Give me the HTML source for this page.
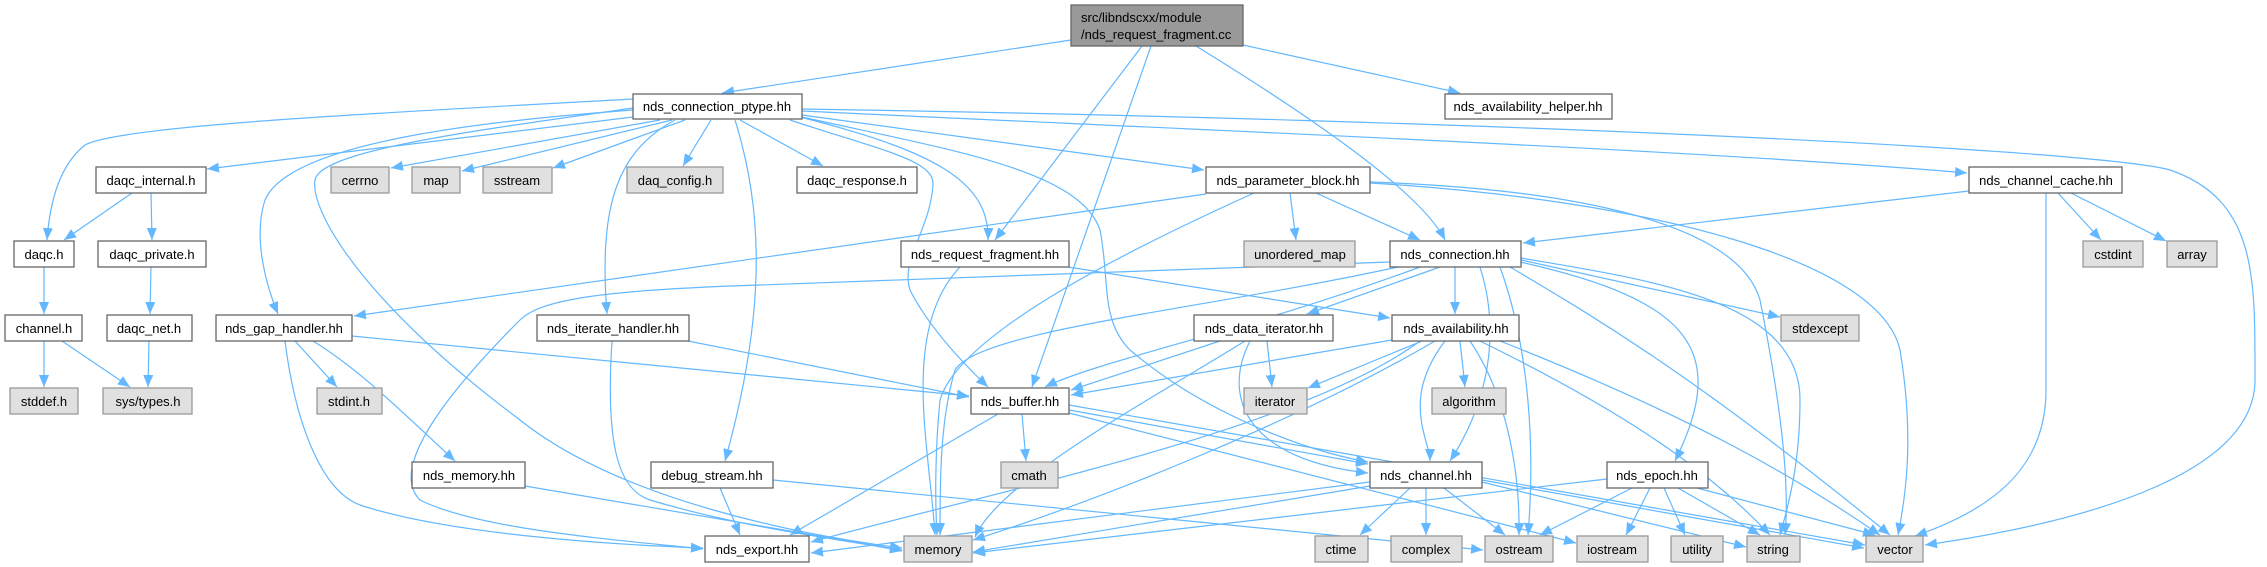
<!DOCTYPE html>
<html><head><meta charset="utf-8"><style>
html,body{margin:0;padding:0;background:#fff;}
svg{display:block;}
text{font-family:"Liberation Sans",Helvetica,Arial,sans-serif;font-size:13px;fill:#000;}
.n{fill:#fff;stroke:#666;stroke-width:1.3;}
.g{fill:#e0e0e0;stroke:#999;stroke-width:1.3;}
.e path{fill:none;stroke:#63b8ff;stroke-width:1.2;marker-end:url(#a);}
</style></head><body>
<svg width="2267" height="567" viewBox="0 0 2267 567" xmlns="http://www.w3.org/2000/svg">
<defs><marker id="a" markerUnits="userSpaceOnUse" markerWidth="12" markerHeight="10" refX="12" refY="5" orient="auto"><path d="M0,0 L12,5 L0,10 z" fill="#63b8ff"/></marker></defs>
<g class="e">
<path d="M1071,40 L722,93"/>
<path d="M1142,46 L995,240"/>
<path d="M1151,46 L1032,387"/>
<path d="M1196,46 C1300,110 1420,190 1445,240"/>
<path d="M1243,45 L1460,93"/>
<path d="M633,99 C400,112 120,125 85,145 C60,165 50,200 47,240"/>
<path d="M633,117 L207,169"/>
<path d="M660,120 L391,168"/>
<path d="M672,120 L462,171"/>
<path d="M685,120 L553,168"/>
<path d="M711,120 L683,166"/>
<path d="M740,120 L823,166"/>
<path d="M802,115 L1204,170"/>
<path d="M802,111 C1200,130 1700,150 1967,173"/>
<path d="M802,109 C1500,120 2100,150 2170,170 C2258,200 2255,280 2255,380 C2255,470 2100,520 1925,545"/>
<path d="M633,110 C500,120 290,140 265,200 C252,240 268,290 278,314"/>
<path d="M675,120 C620,150 598,200 607,314"/>
<path d="M735,120 C760,200 770,300 725,461"/>
<path d="M633,108 C480,130 320,150 315,180 C310,210 360,300 520,420 C620,500 800,535 902,548"/>
<path d="M800,117 C930,150 990,180 988,240"/>
<path d="M790,120 C880,150 935,160 933,185 C930,230 900,260 910,290 C930,330 970,370 988,387"/>
<path d="M802,117 C950,150 1080,170 1100,230 C1110,280 1100,320 1130,350 C1200,410 1300,450 1368,462"/>
<path d="M132,193 L64,240"/>
<path d="M151,193 L152,240"/>
<path d="M44,267 L44,314"/>
<path d="M151,267 L150,314"/>
<path d="M44,341 L44,387"/>
<path d="M62,341 L130,387"/>
<path d="M149,341 L148,387"/>
<path d="M295,341 L337,387"/>
<path d="M313,341 C360,370 400,410 455,461"/>
<path d="M285,341 C295,420 320,490 360,505 C450,535 620,545 703,548"/>
<path d="M352,336 L969,396"/>
<path d="M525,486 L902,550"/>
<path d="M688,341 L969,397"/>
<path d="M612,341 C605,450 620,490 650,500 C750,530 850,540 902,551"/>
<path d="M720,488 L740,535"/>
<path d="M773,480 L1483,550"/>
<path d="M1206,194 L354,316"/>
<path d="M1290,193 L1296,240"/>
<path d="M1316,193 L1420,240"/>
<path d="M1254,193 C1150,240 960,330 940,400 C935,450 935,500 937,535"/>
<path d="M1370,182 C1600,190 1740,230 1760,300 C1780,400 1790,480 1785,535"/>
<path d="M1370,183 C1650,200 1880,260 1900,350 C1915,440 1905,500 1898,535"/>
<path d="M960,267 C900,330 930,450 935,535"/>
<path d="M1068,267 L1390,318"/>
<path d="M1969,191 L1523,243"/>
<path d="M2058,193 L2101,240"/>
<path d="M2071,193 L2166,241"/>
<path d="M2046,193 L2046,390 C2046,470 1990,510 1915,536"/>
<path d="M1390,262 L760,285 C600,290 540,300 520,320 C440,400 390,470 420,500 C480,530 620,540 703,549"/>
<path d="M1398,267 C1200,310 980,330 955,370 C940,420 940,480 940,535"/>
<path d="M1420,267 C1250,330 1100,360 1045,387"/>
<path d="M1440,267 L1307,314"/>
<path d="M1455,267 L1455,314"/>
<path d="M1480,267 C1500,330 1490,400 1450,461"/>
<path d="M1520,262 C1690,300 1730,350 1675,461"/>
<path d="M1521,260 L1780,317"/>
<path d="M1521,258 C1650,280 1800,300 1800,400 C1800,460 1790,500 1780,535"/>
<path d="M1510,267 C1600,320 1700,380 1890,535"/>
<path d="M1500,267 C1530,350 1535,450 1528,535"/>
<path d="M1220,341 L1071,390"/>
<path d="M1267,341 L1272,387"/>
<path d="M1250,341 C1220,400 1250,460 1368,473"/>
<path d="M1245,341 C1150,400 1000,480 975,537"/>
<path d="M1392,340 L1071,395"/>
<path d="M1422,341 L1308,388"/>
<path d="M1460,341 L1465,387"/>
<path d="M1445,341 C1400,400 1430,440 1430,461"/>
<path d="M1420,341 C1300,430 1000,490 811,542"/>
<path d="M1435,341 C1300,420 1100,500 973,540"/>
<path d="M1470,341 C1510,400 1520,480 1519,535"/>
<path d="M1480,341 C1600,400 1700,460 1770,535"/>
<path d="M1500,341 C1700,420 1800,480 1880,535"/>
<path d="M1022,414 L1026,461"/>
<path d="M998,414 L790,535"/>
<path d="M1069,410 L1368,464"/>
<path d="M1069,413 L1576,543"/>
<path d="M1069,405 L1865,545"/>
<path d="M1410,488 L1360,535"/>
<path d="M1426,488 L1426,535"/>
<path d="M1444,488 L1505,535"/>
<path d="M1370,482 L811,553"/>
<path d="M1370,486 L973,552"/>
<path d="M1482,482 L1746,547"/>
<path d="M1482,480 L1864,548"/>
<path d="M1607,479 L973,553"/>
<path d="M1632,488 L1540,535"/>
<path d="M1650,488 L1626,535"/>
<path d="M1664,488 L1685,535"/>
<path d="M1678,488 L1760,535"/>
<path d="M1697,488 L1875,535"/>
</g>
<g>
<rect x="1071" y="5" width="172" height="41" fill="#999" stroke="#666" stroke-width="1.3"/>
<text x="1081" y="22">src/libndscxx/module</text><text x="1081" y="39">/nds_request_fragment.cc</text>
</g>
<g text-anchor="middle">
<rect class="n" x="633" y="94" width="169" height="25"/><text x="717" y="111">nds_connection_ptype.hh</text>
<rect class="n" x="1445" y="94" width="167" height="25"/><text x="1528" y="111">nds_availability_helper.hh</text>
<rect class="n" x="96" y="167" width="110" height="26"/><text x="151" y="185">daqc_internal.h</text>
<rect class="g" x="331" y="167" width="58" height="26"/><text x="360" y="185">cerrno</text>
<rect class="g" x="412" y="167" width="48" height="26"/><text x="436" y="185">map</text>
<rect class="g" x="483" y="167" width="69" height="26"/><text x="517" y="185">sstream</text>
<rect class="g" x="627" y="167" width="96" height="26"/><text x="675" y="185">daq_config.h</text>
<rect class="n" x="797" y="167" width="120" height="26"/><text x="857" y="185">daqc_response.h</text>
<rect class="n" x="1206" y="167" width="164" height="26"/><text x="1288" y="185">nds_parameter_block.hh</text>
<rect class="n" x="1969" y="167" width="153" height="26"/><text x="2046" y="185">nds_channel_cache.hh</text>
<rect class="n" x="14" y="241" width="60" height="26"/><text x="44" y="259">daqc.h</text>
<rect class="n" x="98" y="241" width="108" height="26"/><text x="152" y="259">daqc_private.h</text>
<rect class="n" x="901" y="241" width="168" height="26"/><text x="985" y="259">nds_request_fragment.hh</text>
<rect class="g" x="1244" y="241" width="111" height="26"/><text x="1300" y="259">unordered_map</text>
<rect class="n" x="1390" y="241" width="131" height="26"/><text x="1455" y="259">nds_connection.hh</text>
<rect class="g" x="2083" y="241" width="60" height="26"/><text x="2113" y="259">cstdint</text>
<rect class="g" x="2167" y="241" width="50" height="26"/><text x="2192" y="259">array</text>
<rect class="n" x="5" y="315" width="77" height="26"/><text x="44" y="333">channel.h</text>
<rect class="n" x="107" y="315" width="85" height="26"/><text x="149" y="333">daqc_net.h</text>
<rect class="n" x="216" y="315" width="136" height="26"/><text x="284" y="333">nds_gap_handler.hh</text>
<rect class="n" x="537" y="315" width="152" height="26"/><text x="613" y="333">nds_iterate_handler.hh</text>
<rect class="n" x="1194" y="315" width="139" height="26"/><text x="1264" y="333">nds_data_iterator.hh</text>
<rect class="n" x="1392" y="315" width="127" height="26"/><text x="1456" y="333">nds_availability.hh</text>
<rect class="g" x="1781" y="315" width="78" height="26"/><text x="1820" y="333">stdexcept</text>
<rect class="g" x="10" y="388" width="68" height="26"/><text x="44" y="406">stddef.h</text>
<rect class="g" x="103" y="388" width="89" height="26"/><text x="148" y="406">sys/types.h</text>
<rect class="g" x="317" y="388" width="65" height="26"/><text x="349" y="406">stdint.h</text>
<rect class="n" x="971" y="388" width="98" height="26"/><text x="1020" y="406">nds_buffer.hh</text>
<rect class="g" x="1244" y="388" width="63" height="26"/><text x="1275" y="406">iterator</text>
<rect class="g" x="1432" y="388" width="74" height="26"/><text x="1469" y="406">algorithm</text>
<rect class="n" x="412" y="462" width="113" height="26"/><text x="469" y="480">nds_memory.hh</text>
<rect class="n" x="651" y="462" width="122" height="26"/><text x="712" y="480">debug_stream.hh</text>
<rect class="g" x="1001" y="462" width="57" height="26"/><text x="1029" y="480">cmath</text>
<rect class="n" x="1370" y="462" width="112" height="26"/><text x="1426" y="480">nds_channel.hh</text>
<rect class="n" x="1607" y="462" width="101" height="26"/><text x="1657" y="480">nds_epoch.hh</text>
<rect class="n" x="705" y="536" width="104" height="26"/><text x="757" y="554">nds_export.hh</text>
<rect class="g" x="904" y="536" width="68" height="26"/><text x="938" y="554">memory</text>
<rect class="g" x="1315" y="536" width="53" height="26"/><text x="1341" y="554">ctime</text>
<rect class="g" x="1391" y="536" width="71" height="26"/><text x="1426" y="554">complex</text>
<rect class="g" x="1485" y="536" width="68" height="26"/><text x="1519" y="554">ostream</text>
<rect class="g" x="1577" y="536" width="71" height="26"/><text x="1612" y="554">iostream</text>
<rect class="g" x="1671" y="536" width="52" height="26"/><text x="1697" y="554">utility</text>
<rect class="g" x="1747" y="536" width="53" height="26"/><text x="1773" y="554">string</text>
<rect class="g" x="1866" y="536" width="57" height="26"/><text x="1895" y="554">vector</text>
</g>
</svg>
</body></html>
